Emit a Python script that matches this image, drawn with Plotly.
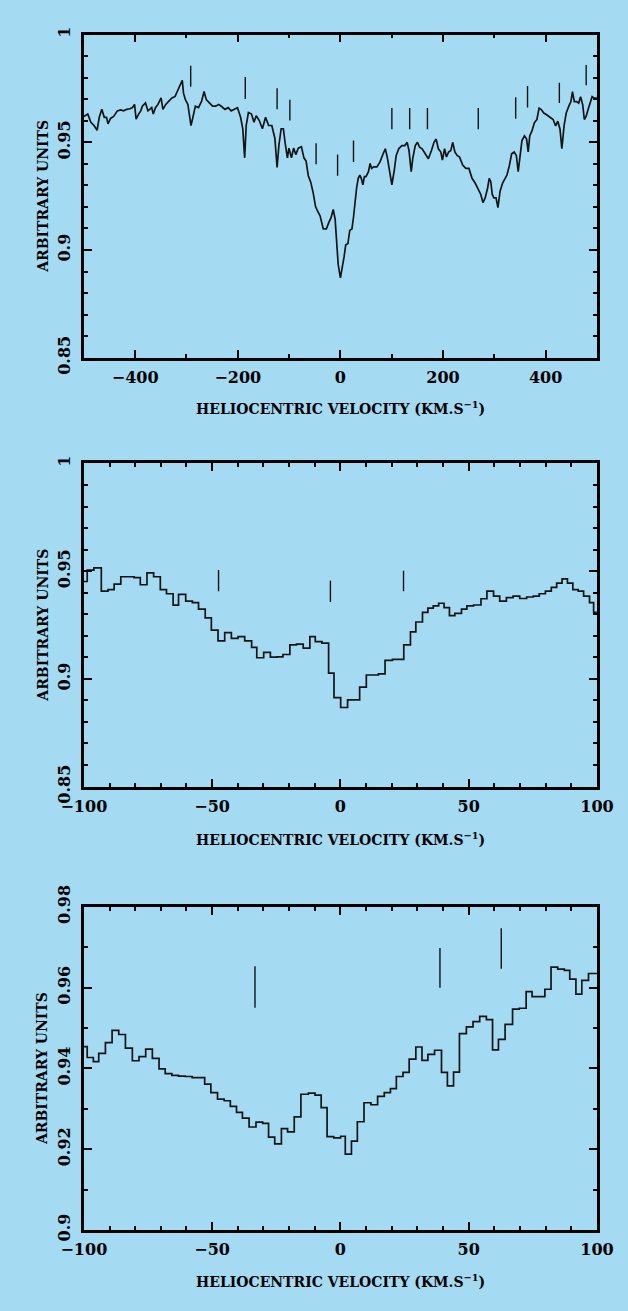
import plotly.graph_objects as go

# ---------------- Panel 1: wide spectrum ----------------
vel1 = [-500, -492.4, -486.3, -480.2, -474.2, -469.9, -465.0, -460.2, -455.9, -452.9, -448.0, -441.9,
        -434.7, -428.6, -422.5, -416.4, -410.3, -405.5, -401.2, -398.2, -393.3, -389.1, -386.0, -379.9,
        -375.1, -370.8, -367.8, -364.7, -360.5, -355.6, -349.5, -345.9, -340.4, -334.3, -328.3, -322.2,
        -316.1, -311.2, -308.2, -305.8, -302.1, -297.3, -293.6, -291.2, -287.5, -282.7, -276.6, -270.5,
        -265.7, -261.4, -255.3, -249.2, -243.2, -237.1, -231.0, -224.9, -218.8, -212.8, -206.7, -200.6,
        -194.5, -190.3, -186.6, -183.6, -179.3, -173.3, -168.4, -164.1, -158.1, -152.0, -145.9, -139.8,
        -133.7, -127.7, -123.4, -119.8, -115.5, -111.2, -107.6, -103.3, -100.3, -95.4, -91.2, -86.9,
        -82.1, -76.0, -71.1, -66.9, -62.6, -57.8, -52.9, -48.6, -44.4, -39.5, -33.4, -27.4, -22.5,
        -18.2, -14.0, -10.3, -7.3, -4.3,
        0, 4.3, 7.3, 10.3, 14.6, 18.2, 22.5, 25.5, 28.6, 31.6, 34.7, 37.7, 40.7, 43.8, 46.8, 49.8,
        54.7, 57.8, 60.8, 65.0, 71.1, 77.2, 83.3, 87.5, 91.2, 95.4, 100.3, 104.6, 108.8, 113.7, 119.8,
        125.8, 130.1, 133.7, 138.0, 141.0, 145.9, 150.2, 154.4, 159.3, 165.3, 171.4, 177.5, 182.4,
        186.6, 190.9, 195.7, 198.8, 203.0, 206.7, 210.9, 215.2, 218.8, 223.1, 227.4, 232.2, 238.3,
        244.4, 250.5, 256.5, 262.6, 268.7, 273.6, 277.8, 282.1, 286.9, 290.0, 293.0, 296.0, 299.1,
        303.3, 307.0, 311.2, 316.1, 320.4, 324.6, 329.5, 333.7, 338.6, 342.9, 346.5, 350.8, 353.8,
        358.7, 362.9, 366.0, 369.0, 373.3, 378.1, 383.0, 387.2, 391.5, 396.4, 401.2, 405.5, 409.7,
        414.6, 419.5, 423.7, 428.0, 431.6, 435.9, 440.1, 445.0, 449.2, 452.3, 455.9, 460.2, 464.4,
        468.1, 472.3, 475.4, 479.0, 482.7, 486.3, 490.6, 494.8, 500]
flux1 = [0.9620, 0.9631, 0.9593, 0.9578, 0.9556, 0.9616, 0.9653, 0.9616, 0.9616, 0.9586, 0.9611, 0.9620,
         0.9646, 0.9650, 0.9646, 0.9653, 0.9656, 0.9661, 0.9676, 0.9608, 0.9631, 0.9646, 0.9668, 0.9683,
         0.9646, 0.9653, 0.9661, 0.9631, 0.9661, 0.9676, 0.9706, 0.9653, 0.9676, 0.9691, 0.9706, 0.9713,
         0.9743, 0.9766, 0.9788, 0.9728, 0.9698, 0.9676, 0.9623, 0.9578, 0.9616, 0.9668, 0.9661, 0.9691,
         0.9736, 0.9698, 0.9683, 0.9668, 0.9668, 0.9676, 0.9665, 0.9653, 0.9661, 0.9646, 0.9653, 0.9661,
         0.9616, 0.9563, 0.9428, 0.9578, 0.9638, 0.9631, 0.9593, 0.9623, 0.9601, 0.9563, 0.9616, 0.9578,
         0.9578, 0.9518, 0.9383, 0.9488, 0.9563, 0.9563, 0.9495, 0.9428, 0.9473, 0.9428, 0.9473, 0.9443,
         0.9473, 0.9480, 0.9428, 0.9413, 0.9345, 0.9315, 0.9263, 0.9203, 0.9180, 0.9158, 0.9098, 0.9098,
         0.9128, 0.9150, 0.9188, 0.9143, 0.9038, 0.8932,
         0.8871, 0.8924, 0.8970, 0.9023, 0.9030, 0.9091, 0.9098, 0.9152, 0.9227, 0.9288, 0.9333, 0.9348,
         0.9333, 0.9303, 0.9341, 0.9341, 0.9364, 0.9402, 0.9379, 0.9386, 0.9386, 0.9409, 0.9447, 0.9470,
         0.9432, 0.9364, 0.9303, 0.9364, 0.9439, 0.9470, 0.9485, 0.9485, 0.9500, 0.9462, 0.9364, 0.9424,
         0.9485, 0.9500, 0.9477, 0.9470, 0.9447, 0.9424, 0.9462, 0.9500, 0.9515, 0.9470, 0.9455, 0.9417,
         0.9470, 0.9432, 0.9455, 0.9462, 0.9500, 0.9455, 0.9439, 0.9432, 0.9394, 0.9379, 0.9379, 0.9333,
         0.9311, 0.9280, 0.9258, 0.9220, 0.9242, 0.9288, 0.9333, 0.9318, 0.9258, 0.9242, 0.9242, 0.9197,
         0.9273, 0.9311, 0.9333, 0.9348, 0.9394, 0.9447, 0.9455, 0.9439, 0.9364, 0.9455, 0.9508, 0.9530,
         0.9515, 0.9455, 0.9530, 0.9553, 0.9591, 0.9606, 0.9659, 0.9652, 0.9636, 0.9629, 0.9621, 0.9614,
         0.9606, 0.9576, 0.9598, 0.9561, 0.9470, 0.9576, 0.9636, 0.9667, 0.9689, 0.9735, 0.9689, 0.9689,
         0.9682, 0.9712, 0.9674, 0.9606, 0.9621, 0.9652, 0.9682, 0.9712, 0.9705, 0.9705]
mark1_vel = [-291.8, -185.4, -123.4, -98.5, -47.4, -5.5, 25.5, 100.3, 135.0, 169.6, 268.7, 341.6, 364.7, 426.7, 479.0]
mark1_lo = [0.9758, 0.9701, 0.9653, 0.9601, 0.9398, 0.9345, 0.9409, 0.9561, 0.9561, 0.9561, 0.9561, 0.9609, 0.9662, 0.9682, 0.9765]
mark1_hi = [0.9856, 0.9803, 0.9751, 0.9698, 0.9496, 0.9443, 0.9508, 0.9659, 0.9659, 0.9659, 0.9659, 0.9709, 0.9761, 0.9776, 0.9859]

# ---------------- Panel 2: binned spectrum ----------------
edges2 = [-100.0, -98.7, -96.1, -93.2, -90.6, -88.2, -85.6, -83.0, -80.4, -78.0, -75.4, -72.8, -70.2,
          -67.8, -65.2, -63.1, -60.3, -57.7, -55.3, -52.7, -50.3, -47.7, -45.1, -42.5, -39.9, -37.3,
          -34.6, -32.6, -29.9, -27.3, -24.7, -22.4, -19.7, -17.1, -14.5, -11.9, -9.8, -7.2, -4.6, -2.5,
          0.1, 2.8, 4.8, 7.5, 10.1, 12.4, 14.8, 17.4, 20.3, 22.6, 24.7, 27.3, 29.4, 32.0, 34.1, 36.2,
          38.3, 40.4, 42.5, 44.6, 47.2, 49.3, 51.9, 54.8, 57.1, 59.7, 62.1, 64.7, 67.3, 69.9, 72.6,
          75.2, 77.5, 79.9, 82.2, 84.3, 86.4, 88.5, 90.6, 92.7, 94.8, 97.1, 98.7, 100.0]
flux2 = [0.9452, 0.9505, 0.9515, 0.9407, 0.9414, 0.9440, 0.9474, 0.9474, 0.9470, 0.9437, 0.9492, 0.9474,
         0.9414, 0.9395, 0.9342, 0.9392, 0.9361, 0.9354, 0.9324, 0.9283, 0.9226, 0.9176, 0.9215, 0.9188,
         0.9196, 0.9176, 0.9146, 0.9098, 0.9123, 0.9101, 0.9102, 0.9113, 0.9158, 0.9161, 0.9143, 0.9196,
         0.9173, 0.9166, 0.9027, 0.8913, 0.8867, 0.8902, 0.8902, 0.8962, 0.9018, 0.9018, 0.9023, 0.9086,
         0.9090, 0.9090, 0.9158, 0.9218, 0.9264, 0.9309, 0.9328, 0.9339, 0.9351, 0.9331, 0.9294, 0.9304,
         0.9324, 0.9339, 0.9343, 0.9372, 0.9407, 0.9384, 0.9361, 0.9377, 0.9384, 0.9373, 0.9380, 0.9384,
         0.9395, 0.9407, 0.9425, 0.9444, 0.9464, 0.9444, 0.9414, 0.9407, 0.9384, 0.9354, 0.9309]
mark2_vel = [-47.5, -3.9, 24.6]
mark2_lo = [0.9407, 0.9357, 0.9407]
mark2_hi = [0.9505, 0.9456, 0.9502]

# ---------------- Panel 3: binned spectrum ----------------
edges3 = [-100.0, -98.7, -96.3, -94.2, -91.6, -89.0, -86.4, -83.8, -81.1, -78.5, -75.9, -73.3, -70.7,
          -68.3, -65.7, -63.1, -60.5, -57.8, -55.2, -52.9, -50.5, -47.9, -45.3, -42.9, -40.5, -38.2,
          -35.6, -32.9, -30.3, -28.0, -25.6, -23.0, -20.6, -18.0, -15.4, -12.5, -9.9, -7.5, -5.2, -2.6,
          0.1, 1.9, 4.3, 6.6, 9.2, 11.9, 14.5, 17.1, 19.5, 21.8, 24.4, 26.8, 29.4, 31.8, 34.1, 36.7,
          39.4, 41.7, 44.1, 46.4, 49.1, 51.7, 54.3, 56.9, 59.3, 61.6, 64.2, 67.1, 69.7, 72.4, 74.7,
          77.3, 79.7, 82.1, 84.7, 87.3, 89.4, 91.8, 94.1, 96.7, 100.0]
flux3 = [0.9454, 0.9427, 0.9417, 0.9437, 0.9464, 0.9494, 0.9484, 0.9450, 0.9419, 0.9429, 0.9448, 0.9425,
         0.9399, 0.9387, 0.9383, 0.9381, 0.9380, 0.9377, 0.9377, 0.9361, 0.9340, 0.9324, 0.9320, 0.9306,
         0.9291, 0.9277, 0.9255, 0.9267, 0.9264, 0.9230, 0.9213, 0.9251, 0.9243, 0.9280, 0.9336, 0.9339,
         0.9334, 0.9303, 0.9231, 0.9228, 0.9232, 0.9188, 0.9220, 0.9268, 0.9315, 0.9310, 0.9331, 0.9340,
         0.9350, 0.9380, 0.9390, 0.9423, 0.9453, 0.9420, 0.9435, 0.9445, 0.9390, 0.9357, 0.9391, 0.9486,
         0.9503, 0.9516, 0.9529, 0.9521, 0.9446, 0.9472, 0.9509, 0.9547, 0.9549, 0.9590, 0.9578, 0.9578,
         0.9596, 0.9651, 0.9646, 0.9643, 0.9621, 0.9584, 0.9618, 0.9635]
mark3_vel = [-33.3, 38.8, 62.7]
mark3_lo = [0.9550, 0.9600, 0.9647]
mark3_hi = [0.9653, 0.9698, 0.9747]

# axis / tick definitions
xticks_wide = [-400, -200, 0, 200, 400]
xticks_narrow = [-100, -50, 0, 50, 100]
yticks_12 = [0.85, 0.9, 0.95, 1.0]
yticks_3 = [0.9, 0.92, 0.94, 0.96, 0.98]
XTITLE = "HELIOCENTRIC VELOCITY (KM.S<sup>\u22121</sup>)"
YTITLE = "ARBITRARY UNITS"

BG = "#a4daf2"
INK = "#141414"
FONT = "DejaVu Serif"


def segs(xs, lo, hi):
    X, Y = [], []
    for x, a, b in zip(xs, lo, hi):
        X += [x, x, None]
        Y += [a, b, None]
    return X, Y


fig = go.Figure()

# panel 1
fig.add_trace(go.Scatter(x=vel1, y=flux1, mode="lines", line=dict(color=INK, width=1.7),
                         xaxis="x", yaxis="y", showlegend=False, hoverinfo="skip"))
mx, my = segs(mark1_vel, mark1_lo, mark1_hi)
fig.add_trace(go.Scatter(x=mx, y=my, mode="lines", line=dict(color=INK, width=1.4),
                         xaxis="x", yaxis="y", showlegend=False, hoverinfo="skip"))

# panel 2
fig.add_trace(go.Scatter(x=edges2, y=flux2 + [flux2[-1]], mode="lines", line_shape="hv",
                         line=dict(color=INK, width=1.7), xaxis="x2", yaxis="y2",
                         showlegend=False, hoverinfo="skip"))
mx, my = segs(mark2_vel, mark2_lo, mark2_hi)
fig.add_trace(go.Scatter(x=mx, y=my, mode="lines", line=dict(color=INK, width=1.4),
                         xaxis="x2", yaxis="y2", showlegend=False, hoverinfo="skip"))

# panel 3
fig.add_trace(go.Scatter(x=edges3, y=flux3 + [flux3[-1]], mode="lines", line_shape="hv",
                         line=dict(color=INK, width=1.7), xaxis="x3", yaxis="y3",
                         showlegend=False, hoverinfo="skip"))
mx, my = segs(mark3_vel, mark3_lo, mark3_hi)
fig.add_trace(go.Scatter(x=mx, y=my, mode="lines", line=dict(color=INK, width=1.4),
                         xaxis="x3", yaxis="y3", showlegend=False, hoverinfo="skip"))

W, H = 628, 1311
xdom = [65 / W, 613 / W]
panels = [(13, 346), (455, 788), (912, 1245)]
ydoms = [[1 - b / H, 1 - t / H] for t, b in panels]

tickfont = dict(family=FONT, size=16, color="black", weight="bold")
common = dict(showline=True, linecolor="black", linewidth=2.5, mirror="ticks", ticks="inside",
              ticklen=8, tickwidth=2, tickcolor="black", showgrid=False, zeroline=False,
              tickfont=tickfont, fixedrange=True, ticklabeloverflow="allow")

layout = dict(width=W, height=H, paper_bgcolor=BG, plot_bgcolor=BG,
              margin=dict(l=0, r=0, t=0, b=0), showlegend=False)

xcfg = [
    dict(range=[-500, 500], tickvals=xticks_wide,
         minor=dict(dtick=100, tick0=0, ticks="inside", ticklen=4, tickwidth=1.5, tickcolor="black")),
    dict(range=[-100, 100], tickvals=xticks_narrow,
         minor=dict(dtick=10, tick0=0, ticks="inside", ticklen=4, tickwidth=1.5, tickcolor="black")),
    dict(range=[-100, 100], tickvals=xticks_narrow,
         minor=dict(dtick=10, tick0=0, ticks="inside", ticklen=4, tickwidth=1.5, tickcolor="black")),
]
ycfg = [
    dict(range=[0.85, 1.0], tickvals=yticks_12,
         minor=dict(dtick=0.01, tick0=0.85, ticks="inside", ticklen=4, tickwidth=1.5, tickcolor="black")),
    dict(range=[0.85, 1.0], tickvals=yticks_12,
         minor=dict(dtick=0.01, tick0=0.85, ticks="inside", ticklen=4, tickwidth=1.5, tickcolor="black")),
    dict(range=[0.9, 0.98], tickvals=yticks_3,
         minor=dict(dtick=0.01, tick0=0.9, ticks="inside", ticklen=4, tickwidth=1.5, tickcolor="black")),
]

annotations = []
title_y = [398, 842, 1298]
for i in range(3):
    sx = "" if i == 0 else str(i + 1)
    layout["xaxis" + sx] = dict(domain=xdom, anchor="y" + sx, ticklabelstandoff=3, **xcfg[i], **common)
    layout["yaxis" + sx] = dict(domain=ydoms[i], anchor="x" + sx, tickangle=-90,
                                ticklabelstandoff=5, **ycfg[i], **common)
    annotations.append(dict(text=XTITLE, xref="paper", yref="paper", x=(xdom[0] + xdom[1]) / 2,
                            y=1 - title_y[i] / H, xanchor="center", yanchor="middle", showarrow=False,
                            font=dict(family=FONT, size=14, color="black", weight="bold")))
    ymid = 1 - (panels[i][0] + panels[i][1]) / 2 / H
    annotations.append(dict(text=YTITLE, xref="paper", yref="paper", x=21 / W, y=ymid,
                            xanchor="center", yanchor="middle", textangle=-90, showarrow=False,
                            font=dict(family=FONT, size=14, color="black", weight="bold")))
layout["annotations"] = annotations

fig.update_layout(**layout)
fig.write_html("out.html", config={"displayModeBar": False},
               post_script="document.body.style.margin='0';document.body.style.overflow='hidden';"
                           "document.documentElement.style.overflow='hidden';")
